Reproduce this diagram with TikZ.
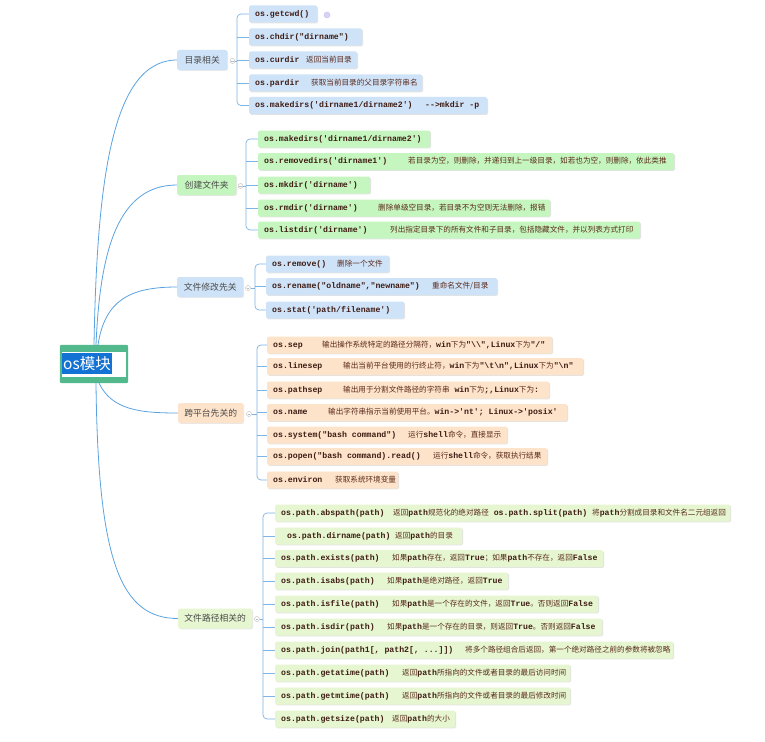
\documentclass[tikz,border=0pt]{standalone}
\usepackage{fontspec}
\setmonofont{Liberation Mono}
\newfontfamily\zhf{Noto Sans CJK SC}
\usetikzlibrary{shadows}
\definecolor{rootgreen}{HTML}{52B98C}
\definecolor{hlblue}{HTML}{1273D4}
\definecolor{linkblue}{HTML}{5BA3E0}
\definecolor{sublink}{HTML}{7DB5E6}
\definecolor{boxblue}{HTML}{CFE3F8}
\definecolor{boxgreen}{HTML}{C6F6BF}
\definecolor{boxpeach}{HTML}{FDE3C9}
\definecolor{boxlime}{HTML}{E6F6D0}
\definecolor{labelgray}{HTML}{4A4A4A}
\definecolor{codetext}{HTML}{3E1C14}
\definecolor{zhtext}{HTML}{5A2A1C}
\definecolor{dotfill}{HTML}{D8D3F4}
\definecolor{dotdraw}{HTML}{C4BDEE}
\newcommand\zs[1]{{\zhf\mdseries\color{zhtext}\fontsize{7.6pt}{9pt}\selectfont #1}}
\newcommand\itm[4]{\makebox[#1pt][l]{\hspace{6pt}\rlap{#3}\hspace{#2pt}#4}}
\tikzset{
  conn/.style={draw=linkblue, line width=0.8pt},
  sub/.style={draw=sublink, line width=0.7pt, rounded corners=4pt},
  subs/.style={draw=sublink, line width=0.7pt},
  itembox/.style={anchor=west, inner sep=0pt, minimum height=17pt, rounded corners=1.5pt,
    text=codetext, font=\ttfamily\bfseries\fontsize{8.2pt}{10pt}\selectfont,
    drop shadow={shadow xshift=0.8pt, shadow yshift=-0.8pt, opacity=0.18, fill=black!60}},
  ib/.style={itembox, fill=boxblue},
  ig/.style={itembox, fill=boxgreen},
  ip/.style={itembox, fill=boxpeach},
  iy/.style={itembox, fill=boxlime},
  branch/.style={anchor=west, inner sep=0pt, minimum height=20pt, rounded corners=2pt,
    text=labelgray, font=\zhf\fontsize{8.8pt}{10pt}\selectfont,
    drop shadow={shadow xshift=0.8pt, shadow yshift=-0.8pt, opacity=0.15, fill=black!60}},
  toggle/.style={circle, draw=gray!55, fill=white, inner sep=0pt, minimum size=5pt, line width=0.4pt},
}
\begin{document}
\begin{tikzpicture}[x=1pt, y=-1pt]
\useasboundingbox (0,0) rectangle (765,741);
\fill[white] (0,0) rectangle (765,741);

% root
\node[inner sep=0pt, minimum width=68pt, minimum height=38pt] (root) at (94,364) {};
\fill[rootgreen, rounded corners=2pt] (root.north west) rectangle (root.south east);
\fill[white] ([xshift=2pt, yshift=-7pt]root.north west) rectangle ([xshift=-2pt, yshift=6pt]root.south east);
\node[fill=hlblue, text=white, inner xsep=1pt, inner ysep=0pt, minimum height=21pt,
  font=\zhf\fontsize{15.5pt}{18pt}\selectfont] (rt) at (87,363.5) {os模块};

% branches
\node[branch, fill=boxblue, minimum width=50pt] (B1) at (177,60) {目录相关};
\node[branch, fill=boxgreen, minimum width=59pt] (B2) at (177,185) {创建文件夹};
\node[branch, fill=boxblue, minimum width=66pt] (B3) at (177,287) {文件修改先关};
\node[branch, fill=boxpeach, minimum width=65pt] (B4) at (178,413) {跨平台先关的};
\node[branch, fill=boxlime, minimum width=74pt] (B5) at (178,618.5) {文件路径相关的};

% root connectors
\draw[conn] (root.north) .. controls (97,180) and (112,60) .. (B1.west);
\draw[conn] ([xshift=2pt]root.north) .. controls (100,250) and (118,185) .. (B2.west);
\draw[conn] ([xshift=4pt]root.north) .. controls (105,300) and (130,287) .. (B3.west);
\draw[conn] ([xshift=5pt]root.south) .. controls (112,410) and (140,413) .. (B4.west);
\draw[conn] ([xshift=2pt]root.south) .. controls (98,560) and (120,618.5) .. (B5.west);

% group 1
\node[ib] (a1) at (249,14) {\itm{68}{0}{os.getcwd()}{}};
\node[ib] (a2) at (249,37) {\itm{113}{0}{os.chdir("dirname")}{}};
\node[ib] (a3) at (249,60) {\itm{108}{51}{os.curdir}{\zs{返回当前目录}}};
\node[ib] (a4) at (249,83) {\itm{173}{56}{os.pardir}{\zs{获取当前目录的父目录字符串名}}};
\node[ib] (a5) at (249,105.5) {\itm{238}{170}{os.makedirs('dirname1/dirname2')}{-->mkdir -p}};
\node[circle, fill=dotfill, draw=dotdraw, line width=0.4pt, inner sep=0pt, minimum size=6pt] (dot) at (327,15) {};

% group 2
\node[ig] (b1) at (258,139) {\itm{172}{0}{os.makedirs('dirname1/dirname2')}{}};
\node[ig] (b2) at (258,161.5) {\itm{416}{144}{os.removedirs('dirname1')}{\zs{若目录为空，则删除，并递归到上一级目录，如若也为空，则删除，依此类推}}};
\node[ig] (b3) at (258,185) {\itm{112}{0}{os.mkdir('dirname')}{}};
\node[ig] (b4) at (258,208) {\itm{292}{114}{os.rmdir('dirname')}{\zs{删除单级空目录，若目录不为空则无法删除，报错}}};
\node[ig] (b5) at (258,230) {\itm{382}{126}{os.listdir('dirname')}{\zs{列出指定目录下的所有文件和子目录，包括隐藏文件，并以列表方式打印}}};

% group 3
\node[ib] (c1) at (266,264) {\itm{123}{65}{os.remove()}{\zs{删除一个文件}}};
\node[ib] (c2) at (266,286.5) {\itm{231}{160}{os.rename("oldname","newname")}{\zs{重命名文件/目录}}};
\node[ib] (c3) at (266,310) {\itm{138}{0}{os.stat('path/filename')}{}};

% group 4
\node[ip] (d1) at (267,345) {\itm{285}{49}{os.sep}{\zs{输出操作系统特定的路径分隔符，}win\zs{下为}"\textbackslash\textbackslash",Linux\zs{下为}"/"}};
\node[ip] (d2) at (267,366.5) {\itm{316}{70}{os.linesep}{\zs{输出当前平台使用的行终止符，}win\zs{下为}"\textbackslash t\textbackslash n",Linux\zs{下为}"\textbackslash n"}};
\node[ip] (d3) at (267,390) {\itm{282}{70}{os.pathsep}{\zs{输出用于分割文件路径的字符串} win\zs{下为};,Linux\zs{下为}:}};
\node[ip] (d4) at (267,412.5) {\itm{300}{55}{os.name}{\zs{输出字符串指示当前使用平台。}win->'nt'; Linux->'posix'}};
\node[ip] (d5) at (267,435) {\itm{240}{135}{os.system("bash command")}{\zs{运行}shell\zs{命令，直接显示}}};
\node[ip] (d6) at (267,456.5) {\itm{280}{160}{os.popen("bash command).read()}{\zs{运行}shell\zs{命令，获取执行结果}}};
\node[ip] (d7) at (267,480) {\itm{131}{62}{os.environ}{\zs{获取系统环境变量}}};

% group 5
\node[iy] (e1) at (275,513) {\itm{455}{112}{os.path.abspath(path)}{\zs{返回}path\zs{规范化的绝对路径} os.path.split(path) \zs{将}path\zs{分割成目录和文件名二元组返回}}};
\node[iy] (e2) at (275,536) {\itm{187}{114}{\hspace{6pt}os.path.dirname(path)}{\zs{返回}path\zs{的目录}}};
\node[iy] (e3) at (275,558.5) {\itm{328}{111}{os.path.exists(path)}{\zs{如果}path\zs{存在，返回}True\zs{；如果}path\zs{不存在，返回}False}};
\node[iy] (e4) at (275,581) {\itm{233}{106}{os.path.isabs(path)}{\zs{如果}path\zs{是绝对路径，返回}True}};
\node[iy] (e5) at (275,604) {\itm{323}{111}{os.path.isfile(path)}{\zs{如果}path\zs{是一个存在的文件，返回}True\zs{。否则返回}False}};
\node[iy] (e6) at (275,627) {\itm{327}{106}{os.path.isdir(path)}{\zs{如果}path\zs{是一个存在的目录，则返回}True\zs{。否则返回}False}};
\node[iy] (e7) at (275,650) {\itm{398}{184}{os.path.join(path1[, path2[, ...]])}{\zs{将多个路径组合后返回，第一个绝对路径之前的参数将被忽略}}};
\node[iy] (e8) at (275,673) {\itm{295}{121}{os.path.getatime(path)}{\zs{返回}path\zs{所指向的文件或者目录的最后访问时间}}};
\node[iy] (e9) at (275,696) {\itm{295}{121}{os.path.getmtime(path)}{\zs{返回}path\zs{所指向的文件或者目录的最后修改时间}}};
\node[iy] (e10) at (275,719) {\itm{180}{111}{os.path.getsize(path)}{\zs{返回}path\zs{的大小}}};

% toggles and sub connectors
\node[toggle] (t1) at (232.5,61) {};
\node[toggle] (t2) at (240.5,186) {};
\node[toggle] (t3) at (248,288) {};
\node[toggle] (t4) at (249,414) {};
\node[toggle] (t5) at (257,619) {};
\foreach \t in {t1,t2,t3,t4,t5}
  \draw[gray!55, line width=0.4pt] ([xshift=-1.4pt]\t.center) -- ([xshift=1.4pt]\t.center);

\coordinate (v1) at (237,61);
\coordinate (v2) at (246,186);
\coordinate (v3) at (255,288);
\coordinate (v4) at (257,414);
\coordinate (v5) at (263,619);

\draw[subs] (t1.east) -- (v1);
\draw[subs] (t2.east) -- (v2);
\draw[subs] (t3.east) -- (v3);
\draw[subs] (t4.east) -- (v4);
\draw[subs] (t5.east) -- (v5);

\draw[sub] (a1.west) -- (a1.west -| v1) -- (a5.west -| v1) -- (a5.west);
\foreach \n in {a2,a3,a4} \draw[subs] (\n.west -| v1) -- (\n.west);
\draw[sub] (b1.west) -- (b1.west -| v2) -- (b5.west -| v2) -- (b5.west);
\foreach \n in {b2,b3,b4} \draw[subs] (\n.west -| v2) -- (\n.west);
\draw[sub] (c1.west) -- (c1.west -| v3) -- (c3.west -| v3) -- (c3.west);
\foreach \n in {c2} \draw[subs] (\n.west -| v3) -- (\n.west);
\draw[sub] (d1.west) -- (d1.west -| v4) -- (d7.west -| v4) -- (d7.west);
\foreach \n in {d2,d3,d4,d5,d6} \draw[subs] (\n.west -| v4) -- (\n.west);
\draw[sub] (e1.west) -- (e1.west -| v5) -- (e10.west -| v5) -- (e10.west);
\foreach \n in {e2,e3,e4,e5,e6,e7,e8,e9} \draw[subs] (\n.west -| v5) -- (\n.west);
\end{tikzpicture}
\end{document}
